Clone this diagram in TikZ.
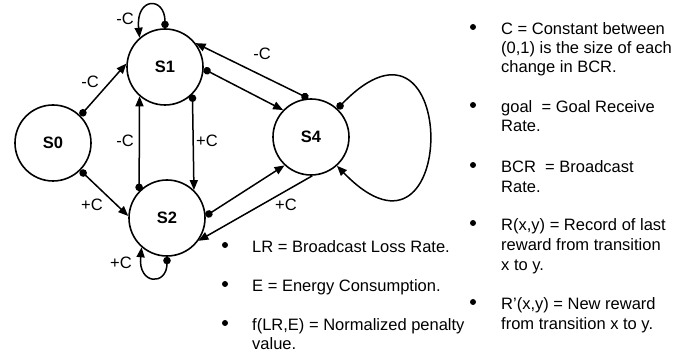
\documentclass[tikz,border=0pt]{standalone}
\usepackage{fontspec}
\setmainfont{Liberation Sans}
\usetikzlibrary{arrows.meta}
\begin{document}
\begin{tikzpicture}[x=1pt,y=-1pt,
  state/.style={circle,draw,line width=1.6pt,minimum size=76pt,inner sep=0pt,
    font=\fontsize{16.5}{19}\selectfont\bfseries},
  trans/.style={line width=1.5pt,{Circle[length=7.5pt]}-{Triangle[length=10pt,width=8pt]}},
  plain/.style={line width=1.5pt,-{Triangle[length=10pt,width=8pt]}},
  lbl/.style={font=\fontsize{16.5}{19}\selectfont,inner sep=0pt},
  txt/.style={font=\fontsize{16.5}{19}\selectfont,inner sep=0pt,anchor=base west},
  bullet/.style={circle,fill,inner sep=0pt,minimum size=6pt}]
\useasboundingbox (0,0) rectangle (689,352);

% states
\node[state] (S0) at (53,143) {S0};
\node[state] (S1) at (165,67) {S1};
\node[state] (S2) at (167,218) {S2};
\node[state] (S4) at (311,137) {S4};

% transitions
\draw[trans] (S0.45) -- (S1.175);
\draw[trans] (S0.-45) -- (S2.177);
\draw[trans] (S1.90) .. controls +(0,-32) and +(-4,-41) .. (S1.131);
\draw[trans] (S2.-90) .. controls +(0,29) and +(-3.6,38) .. (S2.229);
\draw[trans] (S2.136) -- (S1.229);
\draw[trans] (S1.-45) -- (S2.46);
\draw[trans] (S4.94) -- (S1.38);
\draw[trans] (S1.-3) -- (S4.136);
\draw[trans] (S2.3) -- (S4.227);
\draw[plain] (S4.-88) -- (S2.-36);
\draw[trans] (S4.47) .. controls +(123,-127) and +(123,127) .. (S4.-48);

% transition labels
\node[lbl] (l01) at (90,82) {-C};
\node[lbl] (l02) at (92,205) {+C};
\node[lbl] (l11) at (125,19) {-C};
\node[lbl] (l22) at (121,263) {+C};
\node[lbl] (l21) at (125,141) {-C};
\node[lbl] (l12) at (207,141) {+C};
\node[lbl] (l41) at (262,54) {-C};
\node[lbl] (l42) at (286,205) {+C};

% legend, lower list
\node[bullet] (bLR) at (225,245) {};
\node[txt] (tLR) at (252,253) {LR = Broadcast Loss Rate.};
\node[bullet] (bE) at (225,284) {};
\node[txt] (tE) at (252,292) {E = Energy Consumption.};
\node[bullet] (bF) at (225,323) {};
\node[txt] (tFa) at (252,331) {f(LR,E) = Normalized penalty};
\node[txt] (tFb) at (252,350) {value.};

% legend, right list
\node[bullet] (bC) at (473,27) {};
\node[txt] (tCa) at (501,35) {C = Constant between};
\node[txt] (tCb) at (501,54) {(0,1) is the size of each};
\node[txt] (tCc) at (501,73) {change in BCR.};
\node[bullet] (bG) at (473,105) {};
\node[txt] (tGa) at (501,113) {goal~ = Goal Receive};
\node[txt] (tGb) at (501,132) {Rate.};
\node[bullet] (bB) at (473,165) {};
\node[txt] (tBa) at (501,173) {BCR~ = Broadcast};
\node[txt] (tBb) at (501,193) {Rate.};
\node[bullet] (bR) at (473,223) {};
\node[txt] (tRa) at (501,231) {R(x,y) = Record of last};
\node[txt] (tRb) at (501,251) {reward from transition};
\node[txt] (tRc) at (501,271) {x to y.};
\node[bullet] (bRp) at (473,302) {};
\node[txt] (tRpa) at (501,310) {R’(x,y) = New reward};
\node[txt] (tRpb) at (501,330) {from transition x to y.};
\end{tikzpicture}
\end{document}
